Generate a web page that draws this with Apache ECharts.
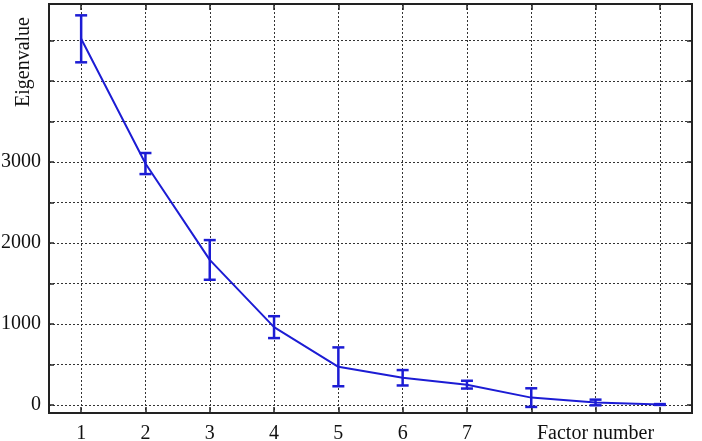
<!DOCTYPE html>
<html>
<head>
<meta charset="utf-8">
<script src="https://cdn.jsdelivr.net/npm/echarts@6/dist/echarts.min.js"></script>
<style>
  html, body { margin: 0; padding: 0; background: #fff; }
  #chart { width: 702px; height: 441px; }
</style>
</head>
<body>
<div id="chart"></div>
<script>
// 因子编号与特征值
const categories = ['1', '2', '3', '4', '5', '6', '7', '8', '9', '10'];
const eigenvalues = [4520, 2980, 1790, 960, 470, 335, 250, 90, 30, 5];
const errors = [290, 130, 245, 135, 240, 95, 48, 115, 35, 5];
// 横轴刻度文字，第 9 个位置放轴名
const xTickLabels = ['1', '2', '3', '4', '5', '6', '7', '', 'Factor number', ''];
// 纵轴刻度
const yTickValues = [0, 500, 1000, 1500, 2000, 2500, 3000, 3500, 4000, 4500];
const yLabelValues = [0, 1000, 2000, 3000];

const blue = '#1c1cd4';
const ink = '#222';
const font = 'Liberation Serif';

const chart = echarts.init(document.getElementById('chart'));

// 误差棒数据 [索引, 下限, 上限]
const errorData = eigenvalues.map((v, i) => [i, v - errors[i], v + errors[i]]);

const gridLine = {
  show: true,
  lineStyle: { color: '#333', type: [2, 2], width: 1 }
};

const option = {
  animation: false,
  grid: {
    left: 49, right: 10, top: 4, bottom: 28,
    outerBoundsMode: 'none',
    containLabel: false,
    show: true,
    borderColor: ink,
    borderWidth: 2,
    backgroundColor: 'transparent'
  },
  xAxis: [
    {
      type: 'category',
      data: categories,
      position: 'bottom',
      boundaryGap: true,
      axisLine: { show: false, onZero: false },
      axisTick: { show: true, inside: true, alignWithLabel: true, length: 6, lineStyle: { color: ink, width: 1.5 } },
      axisLabel: {
        interval: 0,
        margin: 11,
        color: '#111',
        fontFamily: font,
        fontSize: 20,
        formatter: (val, idx) => xTickLabels[idx]
      },
      splitLine: Object.assign({ alignWithLabel: true, interval: 0 }, gridLine)
    },
    {
      type: 'category',
      data: categories,
      position: 'top',
      boundaryGap: true,
      axisLine: { show: false, onZero: false },
      axisTick: { show: true, inside: true, alignWithLabel: true, length: 6, lineStyle: { color: ink, width: 1.5 } },
      axisLabel: { show: false },
      splitLine: { show: false }
    }
  ],
  yAxis: [
    {
      type: 'value',
      min: -100,
      max: 4950,
      position: 'left',
      axisLine: { show: false, onZero: false },
      axisTick: { show: true, inside: true, length: 5, customValues: yTickValues, lineStyle: { color: ink, width: 1.5 } },
      axisLabel: {
        customValues: yLabelValues,
        margin: 8,
        color: '#111',
        fontFamily: font,
        fontSize: 20,
        formatter: (val) => String(val)
      },
      splitLine: gridLine
    },
    {
      type: 'value',
      min: -100,
      max: 4950,
      position: 'right',
      axisLine: { show: false, onZero: false },
      axisTick: { show: true, inside: true, length: 5, customValues: yTickValues, lineStyle: { color: ink, width: 1.5 } },
      axisLabel: { show: false },
      splitLine: { show: false }
    }
  ],
  graphic: [
    {
      type: 'text',
      x: 24,
      y: 62,
      rotation: Math.PI / 2,
      style: {
        text: 'Eigenvalue',
        fill: '#111',
        font: '20px "Liberation Serif"',
        align: 'center',
        verticalAlign: 'middle'
      }
    }
  ],
  series: [
    {
      name: 'Eigenvalue',
      type: 'line',
      data: eigenvalues,
      symbol: 'none',
      lineStyle: { color: blue, width: 2 },
      z: 3
    },
    {
      // 误差棒
      type: 'custom',
      data: errorData,
      z: 4,
      renderItem: (params, api) => {
        const idx = api.value(0);
        const lo = api.coord([idx, api.value(1)]);
        const hi = api.coord([idx, api.value(2)]);
        const cap = 6;
        const style = { stroke: blue, lineWidth: 2.5 };
        return {
          type: 'group',
          children: [
            { type: 'line', shape: { x1: lo[0], y1: lo[1], x2: hi[0], y2: hi[1] }, style },
            { type: 'line', shape: { x1: hi[0] - cap, y1: hi[1], x2: hi[0] + cap, y2: hi[1] }, style },
            { type: 'line', shape: { x1: lo[0] - cap, y1: lo[1], x2: lo[0] + cap, y2: lo[1] }, style }
          ]
        };
      }
    }
  ]
};

chart.setOption(option);
</script>
</body>
</html>
